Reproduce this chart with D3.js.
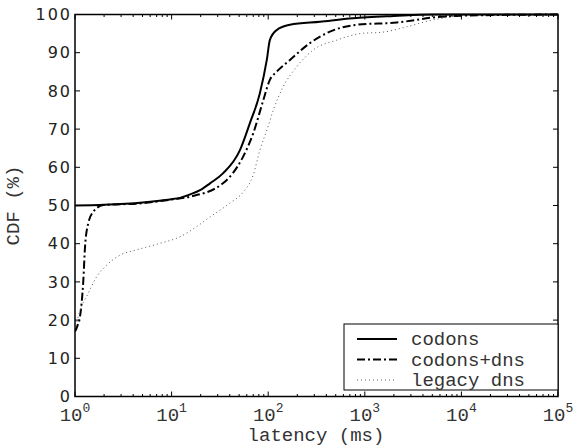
<!DOCTYPE html>
<html><head><meta charset="utf-8">
<script src="https://cdn.jsdelivr.net/npm/d3@7"></script>
<style>body{margin:0;background:#fff}svg{display:block}</style>
</head><body>
<script>
const codonsX = [1, 2, 5, 9.6, 12.2, 15.5, 19.7, 25, 34, 51, 64.5, 82, 96.7, 104, 122, 168, 344, 755, 2000, 5000, 100000];
const codonsY = [50, 50.2, 50.8, 51.6, 52.0, 52.9, 54.0, 55.8, 58.4, 64.5, 71.5, 79.4, 88.1, 93.3, 95.9, 97.3, 98.1, 99.0, 99.6, 100, 100];
const codonsDnsX = [1, 1.06, 1.127, 1.22, 1.27, 1.37, 1.55, 1.96, 5, 9.6, 15.5, 34, 55, 70, 89, 104, 122, 168, 270, 435, 822, 2140, 5500, 15000, 100000];
const codonsDnsY = [17, 18.5, 20.9, 30.5, 39.2, 45.3, 48.4, 50.1, 50.6, 51.5, 52.3, 55.8, 62.8, 68.9, 77.6, 82.9, 85, 88.1, 92.5, 95.5, 97.3, 97.9, 99.3, 99.8, 100];
const legacyX = [1, 1.13, 1.37, 1.68, 2.13, 2.92, 4.35, 7.6, 12.2, 18.2, 25, 40, 55, 70, 82, 97, 113, 143, 197, 292, 513, 960, 1440, 2930, 4700, 7000, 12000, 100000];
const legacyY = [17.5, 22.6, 27, 31.4, 34.4, 37, 38.4, 40.1, 41.8, 44.5, 47, 50.6, 53.5, 58, 64.5, 69.8, 75, 81.1, 86.3, 90.7, 93.3, 95.1, 95.3, 97, 98.4, 99.2, 100, 100];
const seriesNames = ["codons", "codons+dns", "legacy dns"];
const yTicks = [0,10,20,30,40,50,60,70,80,90,100];
const xExponents = [0,1,2,3,4,5];
const xLabel = "latency (ms)";
const yLabel = "CDF (%)";

const W = 576, H = 448;
const L = 75, R = 558, T = 14.5, B = 396.5;
const MONO = "'Liberation Mono', 'Courier New', monospace";
const svg = d3.select("body").append("svg").attr("width", W).attr("height", H);
const x = d3.scaleLog().domain([1, 1e5]).range([L, R]);
const y = d3.scaleLinear().domain([0, 100]).range([B, T]);

svg.append("clipPath").attr("id","clip").append("rect")
  .attr("x", L).attr("y", T - 2).attr("width", R - L).attr("height", B - T + 2);

const styles = [
  {stroke:"#000", width:2, dash:null},
  {stroke:"#000", width:2, dash:"8,3,2,3"},
  {stroke:"#555", width:1, dash:"1,3"}
];
const data = [
  codonsX.map((v,i)=>[v, codonsY[i]]),
  codonsDnsX.map((v,i)=>[v, codonsDnsY[i]]),
  legacyX.map((v,i)=>[v, legacyY[i]])
];
const line = d3.line().x(d=>x(d[0])).y(d=>y(d[1])).curve(d3.curveMonotoneX);
const g = svg.append("g").attr("clip-path","url(#clip)");
data.forEach((d,i)=>{
  g.append("path").attr("d", line(d)).attr("fill","none")
    .attr("stroke", styles[i].stroke).attr("stroke-width", styles[i].width)
    .attr("stroke-dasharray", styles[i].dash);
});

// ticks (inward, all sides)
const tk = svg.append("g").attr("stroke","#000").attr("stroke-width",1);
yTicks.forEach(t=>{
  const yy = y(t);
  tk.append("line").attr("x1",L).attr("x2",L+5).attr("y1",yy).attr("y2",yy);
  tk.append("line").attr("x1",R).attr("x2",R-5).attr("y1",yy).attr("y2",yy);
});
xExponents.forEach(e=>{
  const xx = x(Math.pow(10,e));
  tk.append("line").attr("x1",xx).attr("x2",xx).attr("y1",B).attr("y2",B-5);
  tk.append("line").attr("x1",xx).attr("x2",xx).attr("y1",T).attr("y2",T+5);
  if (e < 5) {
    for (let m=2;m<=9;m++){
      const xm = x(m*Math.pow(10,e));
      tk.append("line").attr("x1",xm).attr("x2",xm).attr("y1",B).attr("y2",B-2.5);
      tk.append("line").attr("x1",xm).attr("x2",xm).attr("y1",T).attr("y2",T+2.5);
    }
  }
});

// frame
svg.append("rect").attr("x",L).attr("y",T).attr("width",R-L).attr("height",B-T)
  .attr("fill","none").attr("stroke","#000").attr("stroke-width",1.5);

// y tick labels
svg.append("g").selectAll("text").data(yTicks).join("text")
  .attr("x", L-3).attr("y", d=>y(d)).attr("dy","0.36em")
  .attr("text-anchor","end")
  .style("font-family","DejaVu Sans").style("font-size","16px").style("letter-spacing","2px")
  .attr("fill","#222").text(d=>d);

// x tick labels
const xl = svg.append("g");
xExponents.forEach(e=>{
  const t = xl.append("text").attr("x", x(Math.pow(10,e))).attr("y", 421)
    .attr("text-anchor","middle").style("font-family",MONO).attr("fill","#333");
  t.append("tspan").style("font-size","19px").text("10");
  t.append("tspan").style("font-size","13px").attr("dy","-9").text(e);
});

// axis labels
svg.append("text").attr("x",316).attr("y",441).attr("text-anchor","middle")
  .style("font-family",MONO).style("font-size","19px").attr("fill","#333").text(xLabel);
svg.append("text").attr("transform",`translate(19,${(T+B)/2}) rotate(-90)`).attr("text-anchor","middle")
  .style("font-family",MONO).style("font-size","19px").attr("fill","#333").text(yLabel);

// legend
const lg = svg.append("g");
lg.append("rect").attr("x",344).attr("y",324).attr("width",R-344).attr("height",66)
  .attr("fill","#fff").attr("stroke","#000").attr("stroke-width",1);
seriesNames.forEach((n,i)=>{
  const yy = 339 + i*20.5;
  lg.append("line").attr("x1",357).attr("x2",397).attr("y1",yy).attr("y2",yy)
    .attr("stroke",styles[i].stroke).attr("stroke-width",styles[i].width)
    .attr("stroke-dasharray",styles[i].dash);
  lg.append("text").attr("x",411).attr("y",yy).attr("dy","0.32em")
    .style("font-family",MONO).style("font-size","19px").attr("fill","#333").text(n);
});
</script>
</body></html>
